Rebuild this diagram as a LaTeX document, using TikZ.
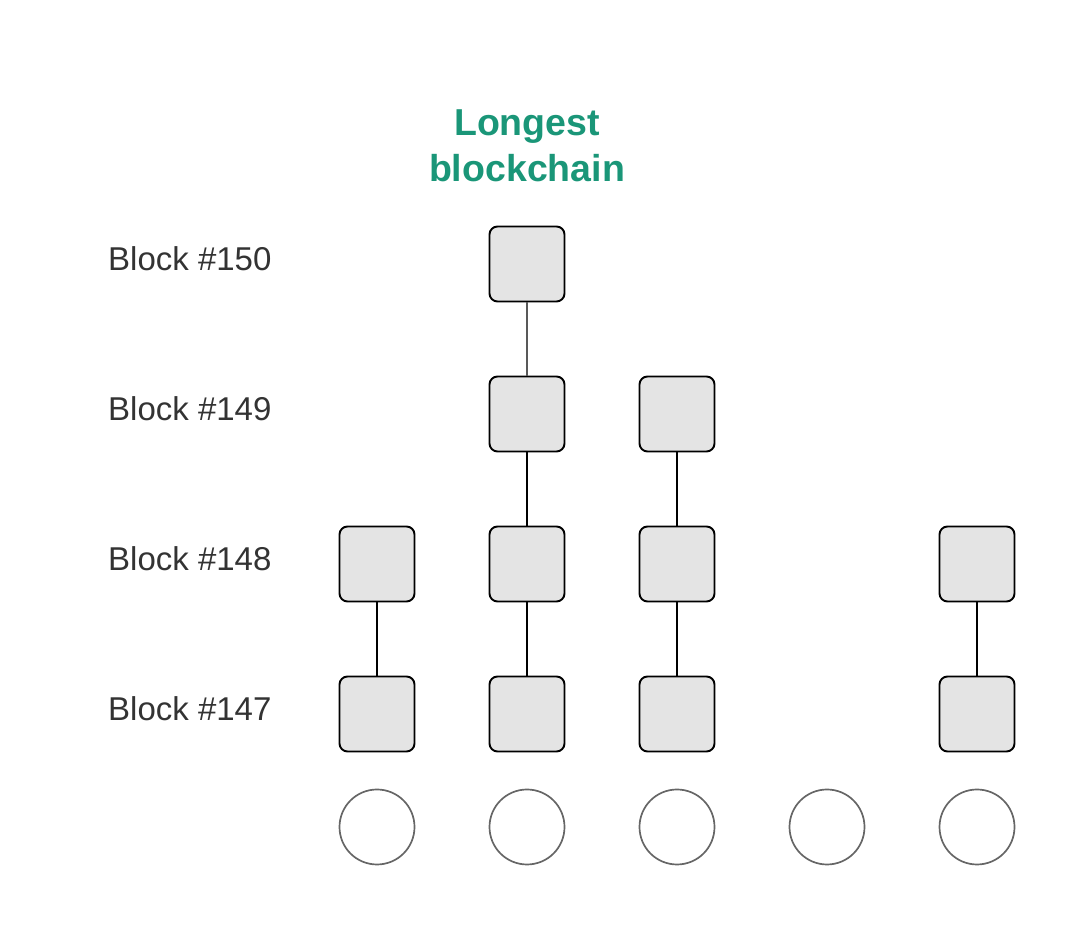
\documentclass[tikz,border=0pt]{standalone}
\usepackage{fontspec}
\setmainfont{Liberation Sans}
\definecolor{boxfill}{HTML}{E4E4E4}
\definecolor{labelgray}{HTML}{333333}
\definecolor{teal}{HTML}{1A9678}
\definecolor{circgray}{HTML}{666666}
\begin{document}
\begin{tikzpicture}[x=1pt,y=1pt,
  blockbox/.style={draw=black,line width=1.9pt,fill=boxfill,rounded corners=8pt,minimum width=75pt,minimum height=75pt,inner sep=0pt},
  slot/.style={draw=circgray,line width=1.7pt,circle,minimum size=75pt,inner sep=0pt},
  link/.style={draw=black,line width=1.9pt},
  toplink/.style={draw=black!65,line width=1.3pt},
  rowlabel/.style={anchor=base west,text=labelgray,font=\fontsize{33}{39}\selectfont,inner sep=0pt},
  title/.style={anchor=base,text=teal,font=\fontsize{37.5}{44}\selectfont\bfseries,inner sep=0pt}]
\useasboundingbox (0,0) rectangle (1089,941);
% title
\node[title] (t1) at (527,805) {Longest};
\node[title] (t2) at (527,759) {blockchain};
% row labels
\node[rowlabel] (l150) at (108,670) {Block \#150};
\node[rowlabel] (l149) at (108,520) {Block \#149};
\node[rowlabel] (l148) at (108,370) {Block \#148};
\node[rowlabel] (l147) at (108,220) {Block \#147};
% blocks
\node[blockbox] (b2r150) at (527,677) {};
\node[blockbox] (b2r149) at (527,527) {};
\node[blockbox] (b3r149) at (677,527) {};
\node[blockbox] (b1r148) at (377,377) {};
\node[blockbox] (b2r148) at (527,377) {};
\node[blockbox] (b3r148) at (677,377) {};
\node[blockbox] (b5r148) at (977,377) {};
\node[blockbox] (b1r147) at (377,227) {};
\node[blockbox] (b2r147) at (527,227) {};
\node[blockbox] (b3r147) at (677,227) {};
\node[blockbox] (b5r147) at (977,227) {};
% circles
\node[slot] (c1) at (377,114) {};
\node[slot] (c2) at (527,114) {};
\node[slot] (c3) at (677,114) {};
\node[slot] (c4) at (827,114) {};
\node[slot] (c5) at (977,114) {};
% connectors
\draw[toplink] (b2r150) -- (b2r149);
\draw[link] (b2r149) -- (b2r148);
\draw[link] (b3r149) -- (b3r148);
\draw[link] (b1r148) -- (b1r147);
\draw[link] (b2r148) -- (b2r147);
\draw[link] (b3r148) -- (b3r147);
\draw[link] (b5r148) -- (b5r147);
\end{tikzpicture}
\end{document}
